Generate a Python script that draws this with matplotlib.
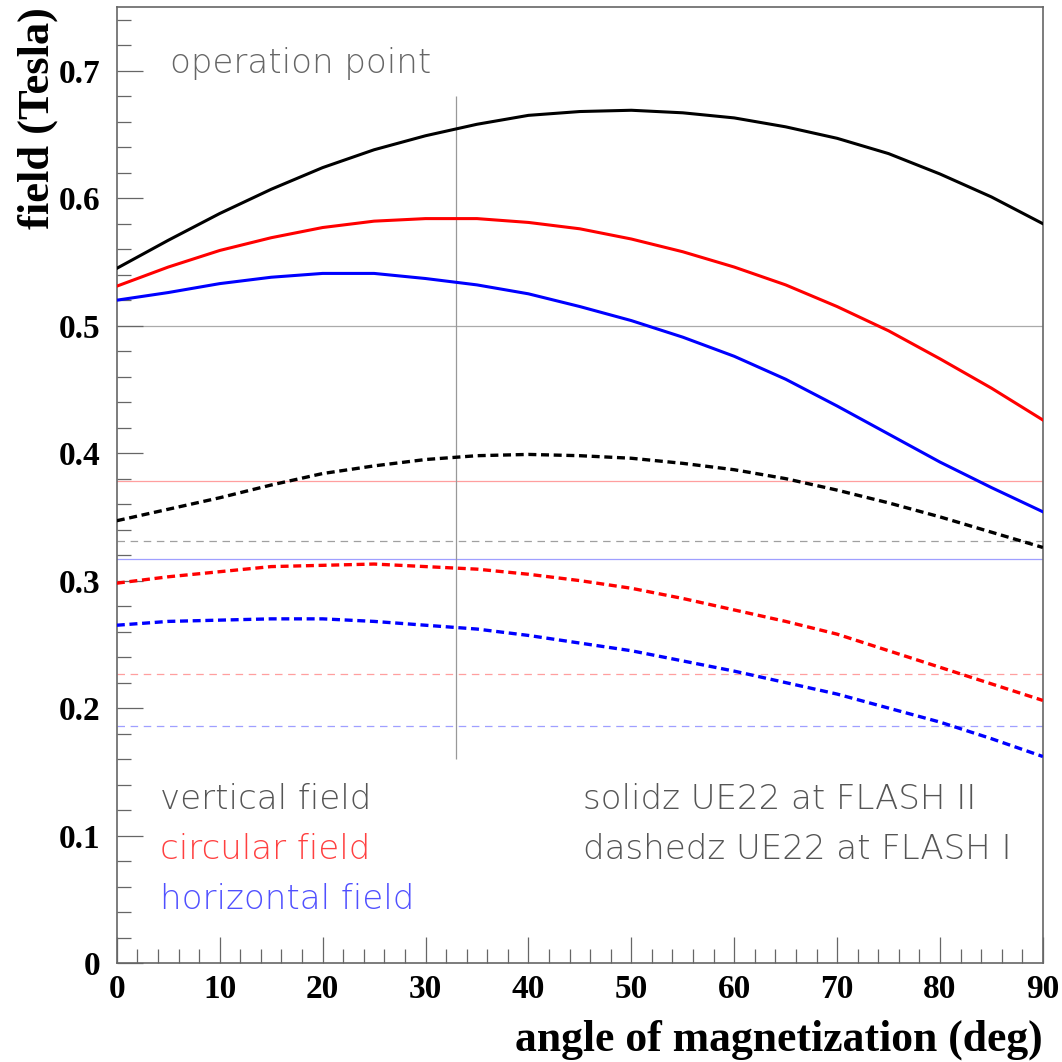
import matplotlib
matplotlib.use("Agg")
import matplotlib.pyplot as plt
from matplotlib.ticker import MultipleLocator

# --- dados (passo de 5 graus) ---
angle = [0, 5, 10, 15, 20, 25, 30, 35, 40, 45, 50, 55, 60, 65, 70, 75, 80, 85, 90]

# FLASH II (linhas cheias)
vert_II = [0.545, 0.567, 0.588, 0.607, 0.624, 0.638, 0.649, 0.658, 0.665, 0.668,
           0.669, 0.667, 0.663, 0.656, 0.647, 0.635, 0.619, 0.601, 0.580]
circ_II = [0.531, 0.546, 0.559, 0.569, 0.577, 0.582, 0.584, 0.584, 0.581, 0.576,
           0.568, 0.558, 0.546, 0.532, 0.515, 0.496, 0.474, 0.451, 0.426]
horz_II = [0.520, 0.526, 0.533, 0.538, 0.541, 0.541, 0.537, 0.532, 0.525, 0.515,
           0.504, 0.491, 0.476, 0.458, 0.437, 0.415, 0.393, 0.373, 0.354]

# FLASH I (tracejado)
vert_I = [0.347, 0.356, 0.365, 0.375, 0.384, 0.390, 0.395, 0.398, 0.399, 0.398,
          0.396, 0.392, 0.387, 0.380, 0.371, 0.361, 0.350, 0.338, 0.326]
circ_I = [0.298, 0.303, 0.307, 0.311, 0.312, 0.313, 0.311, 0.309, 0.305, 0.300,
          0.294, 0.286, 0.277, 0.268, 0.258, 0.245, 0.232, 0.219, 0.206]
horz_I = [0.265, 0.268, 0.269, 0.270, 0.270, 0.268, 0.265, 0.262, 0.257, 0.251,
          0.245, 0.237, 0.229, 0.220, 0.211, 0.200, 0.189, 0.176, 0.162]

# linhas de referência
op_angle = 33
op_range = (0.16, 0.68)
ref_solid = [(0.5, "#aaaaaa"), (0.378, "#ff9f9f"), (0.317, "#9f9fff")]
ref_dashed = [(0.331, "#a0a0a0"), (0.227, "#ff9f9f"), (0.186, "#9f9fff")]

SERIF = ["Liberation Serif", "DejaVu Serif"]
THIN = ["DejaVu Sans"]

fig = plt.figure(figsize=(10.62, 10.62), dpi=100)
ax = fig.add_axes([0.110, 0.0932, 0.872, 0.9002])

for y, c in ref_solid:
    ax.axhline(y, color=c, lw=0.9, zorder=1)
for y, c in ref_dashed:
    ax.axhline(y, color=c, lw=0.9, ls=(0, (6, 4.5)), zorder=1)
ax.vlines(op_angle, *op_range, color="#999999", lw=0.9, zorder=1)

dash = (0, (2.4, 1.4))
ax.plot(angle, vert_II, color="black", lw=2.2, zorder=3)
ax.plot(angle, circ_II, color="#ff0000", lw=2.2, zorder=3)
ax.plot(angle, horz_II, color="#0000ff", lw=2.2, zorder=3)
ax.plot(angle, vert_I, color="black", lw=2.4, ls=dash, zorder=3)
ax.plot(angle, circ_I, color="#ff0000", lw=2.4, ls=dash, zorder=3)
ax.plot(angle, horz_I, color="#0000ff", lw=2.4, ls=dash, zorder=3)

ax.set_xlim(0, 90)
ax.set_ylim(0, 0.75)
ax.xaxis.set_major_locator(MultipleLocator(10))
ax.xaxis.set_minor_locator(MultipleLocator(2))
ax.yaxis.set_major_locator(MultipleLocator(0.1))
ax.yaxis.set_minor_locator(MultipleLocator(0.02))
ax.tick_params(which="both", direction="in", color="#666666", top=False, right=False)
ax.tick_params(which="major", length=19, width=0.9)
ax.tick_params(which="minor", length=10, width=0.9)
ax.tick_params(axis="x", which="major", pad=8)
ax.tick_params(axis="y", which="major", pad=12)
for s in ax.spines.values():
    s.set_color("#666666")
    s.set_linewidth(1.2)

ax.set_yticks([0, 0.1, 0.2, 0.3, 0.4, 0.5, 0.6, 0.7])
ax.set_yticklabels(["0", "0.1", "0.2", "0.3", "0.4", "0.5", "0.6", "0.7"])
for lab in ax.get_xticklabels() + ax.get_yticklabels():
    lab.set_fontfamily(SERIF)
    lab.set_fontweight("bold")
    lab.set_fontsize(24)

ax.set_xlabel("angle of magnetization (deg)", fontfamily=SERIF, fontweight="bold",
              fontsize=31.5, loc="right", labelpad=10)
ax.set_ylabel("field (Tesla)", fontfamily=SERIF, fontweight="bold",
              fontsize=32, loc="top", labelpad=0)

txt = dict(fontfamily=THIN, fontweight=200, fontsize=24.5, va="center", ha="left")
ax.text(5.15, 0.706, "operation point", color="#666666", **txt)
ax.text(4.2, 0.128, "vertical field", color="#555555", **txt)
ax.text(4.2, 0.089, "circular field", color="#ff4040", **txt)
ax.text(4.2, 0.050, "horizontal field", color="#5050ff", **txt)
ax.text(45.3, 0.128, "solidz UE22 at FLASH II", color="#555555", **txt)
ax.text(45.3, 0.089, "dashedz UE22 at FLASH I", color="#555555", **txt)

fig.savefig("out.png", dpi=100)
